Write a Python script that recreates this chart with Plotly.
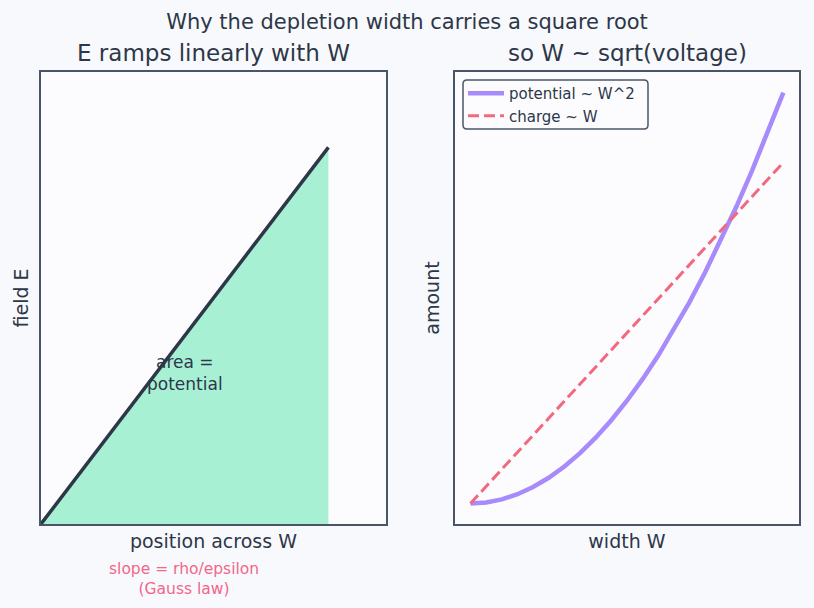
import plotly.graph_objects as go
from plotly.subplots import make_subplots

# Left panel: field E vs position across W
pos_x = [0.0, 1.0]
field_e = [0.0, 1.0]

# Right panel: amount vs width W
width_w = [0.0, 0.05, 0.1, 0.15, 0.2, 0.25, 0.3, 0.35, 0.4, 0.45, 0.5,
           0.55, 0.6, 0.65, 0.7, 0.75, 0.8, 0.85, 0.9, 0.95, 1.0]
potential = [0.0, 0.0025, 0.01, 0.0225, 0.04, 0.0625, 0.09, 0.1225, 0.16, 0.2025, 0.25,
             0.3025, 0.36, 0.4225, 0.49, 0.5625, 0.64, 0.7225, 0.81, 0.9025, 1.0]
charge_w = [0.0, 1.0]
charge = [0.0, 0.83]

FONT = "DejaVu Sans"
DARK = "#2d3748"
FRAME = "#4a5568"

fig = make_subplots(rows=1, cols=2, horizontal_spacing=0.09)

fig.add_trace(go.Scatter(x=pos_x, y=field_e, mode="lines", fill="tozeroy",
                         fillcolor="rgba(110,231,183,0.6)",
                         line=dict(color=DARK, width=3.5), showlegend=False), 1, 1)

fig.add_trace(go.Scatter(x=width_w, y=potential, mode="lines", name="potential ~ W^2",
                         line=dict(color="#a78bfa", width=4.5)), 1, 2)
fig.add_trace(go.Scatter(x=charge_w, y=charge, mode="lines", name="charge ~ W",
                         line=dict(color="#f2687c", width=3, dash="11px,5px")), 1, 2)

axis_common = dict(showticklabels=False, ticks="", showgrid=False, zeroline=False,
                   showline=True, linecolor=FRAME, linewidth=1.5, mirror=True)
AX_FONT = dict(size=19, color=DARK, family=FONT)

fig.update_xaxes(range=[0, 1.2], domain=[0, 0.455], **axis_common, row=1, col=1,
                 title=dict(text="position across W", standoff=10, font=AX_FONT))
fig.update_yaxes(range=[0, 1.2], **axis_common, row=1, col=1,
                 title=dict(text="field E", standoff=6, font=AX_FONT))
fig.update_xaxes(range=[-0.05, 1.05], domain=[0.546, 1], **axis_common, row=1, col=2,
                 title=dict(text="width W", standoff=10, font=AX_FONT))
fig.update_yaxes(range=[-0.05, 1.05], **axis_common, row=1, col=2,
                 title=dict(text="amount", standoff=8, font=AX_FONT))

fig.add_annotation(x=0.5, y=0.4, xref="x", yref="y", text="area =<br>potential",
                   showarrow=False, font=dict(size=17, color=DARK, family=FONT))
fig.add_annotation(x=(184 - 41) / 758, y=-0.121, xref="paper", yref="paper",
                   text="slope = rho/epsilon<br>(Gauss law)", showarrow=False,
                   xanchor="center", yanchor="middle",
                   font=dict(size=15.5, color="#f2668b", family=FONT))
fig.add_annotation(x=(213 - 41) / 758, y=1 + 19 / 452, xref="paper", yref="paper",
                   text="E ramps linearly with W", showarrow=False,
                   xanchor="center", yanchor="middle",
                   font=dict(size=23, color=DARK, family=FONT))
fig.add_annotation(x=(627 - 41) / 758, y=1 + 19 / 452, xref="paper", yref="paper",
                   text="so W ~ sqrt(voltage)", showarrow=False,
                   xanchor="center", yanchor="middle",
                   font=dict(size=23, color=DARK, family=FONT))

# rounded legend frame (paper coords from pixel box 463..648 x 80..129)
def px(x):
    return (x - 41) / 758

def py(y):
    return (524 - y) / 452

x0, x1, y0, y1, r = 463, 648, 80, 129, 4
path = (f"M {px(x0 + r)},{py(y0)} L {px(x1 - r)},{py(y0)} "
        f"Q {px(x1)},{py(y0)} {px(x1)},{py(y0 + r)} L {px(x1)},{py(y1 - r)} "
        f"Q {px(x1)},{py(y1)} {px(x1 - r)},{py(y1)} L {px(x0 + r)},{py(y1)} "
        f"Q {px(x0)},{py(y1)} {px(x0)},{py(y1 - r)} L {px(x0)},{py(y0 + r)} "
        f"Q {px(x0)},{py(y0)} {px(x0 + r)},{py(y0)} Z")
fig.add_shape(type="path", path=path, xref="paper", yref="paper", layer="above",
              line=dict(color=FRAME, width=1.5), fillcolor="rgba(252,252,255,0.85)")

fig.update_layout(
    width=814, height=608,
    margin=dict(l=41, r=15, t=72, b=84),
    paper_bgcolor="#f8f9fc", plot_bgcolor="#fcfcff",
    font=dict(family=FONT, color=DARK),
    title=dict(text="Why the depletion width carries a square root", x=0.5, xanchor="center",
               y=1 - 22 / 608, yanchor="middle", font=dict(size=21, color=DARK, family=FONT)),
    legend=dict(x=px(463), y=py(77), xref="paper", yref="paper",
                xanchor="left", yanchor="top", itemwidth=36,
                bgcolor="rgba(0,0,0,0)", borderwidth=0,
                font=dict(size=15, color=DARK, family=FONT), tracegroupgap=0),
)

fig.write_html("out.html")
